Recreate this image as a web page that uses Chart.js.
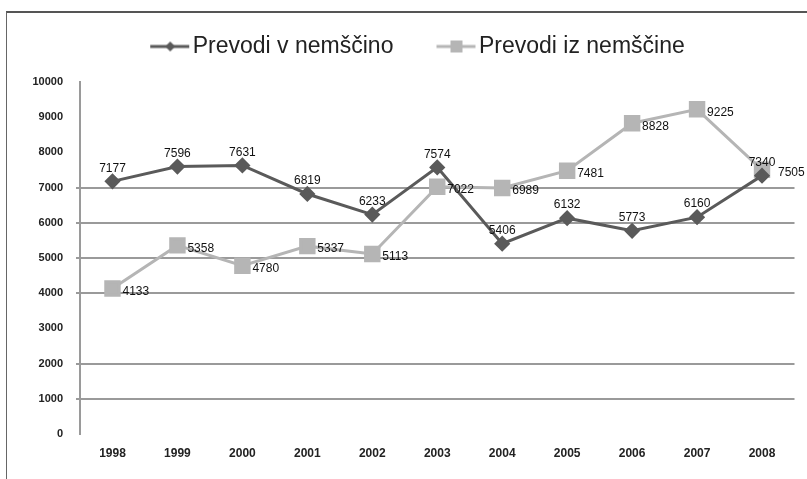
<!DOCTYPE html>
<html>
<head>
<meta charset="utf-8">
<script src="https://cdn.jsdelivr.net/npm/chart.js@4.4.0/dist/chart.umd.min.js"></script>
<style>
html,body{margin:0;padding:0;background:#fff;}
#wrap{position:relative;width:807px;height:479px;overflow:hidden;}
#frame{position:absolute;left:6px;top:11px;width:820px;height:500px;border-top:2px solid #555;border-left:1px solid #666;pointer-events:none;}
canvas{position:absolute;left:0;top:0;}
</style>
</head>
<body>
<div id="wrap">
<canvas id="c" width="807" height="479"></canvas>
<div id="frame"></div>
</div>
<script>
// podatki
var leta = ['1998','1999','2000','2001','2002','2003','2004','2005','2006','2007','2008'];
var vNemscino = [7177,7596,7631,6819,6233,7574,5406,6132,5773,6160,7340];
var izNemscine = [4133,5358,4780,5337,5113,7022,6989,7481,8828,9225,7505];
var brezMreze = [0,3000,8000,9000,10000]; // na sliki teh crt ni

var temna = '#5a5a5a';
var svetla = '#b5b5b5';

// ikona za legendo: crta z oznako na sredini (levi del platna ostane prazen)
function legendIcon(color, style){
  var cv = document.createElement('canvas');
  cv.width = 58; cv.height = 14;
  var g = cv.getContext('2d');
  g.strokeStyle = color; g.lineWidth = 3;
  g.beginPath(); g.moveTo(18,7); g.lineTo(57,7); g.stroke();
  g.fillStyle = color;
  g.beginPath();
  if(style=='rect'){ g.rect(32,1,12,12); }
  else { g.moveTo(38,2); g.lineTo(43,7); g.lineTo(38,12); g.lineTo(33,7); g.closePath(); }
  g.fill();
  return cv;
}
var ikone = [legendIcon(temna,'diamond'), legendIcon(svetla,'rect')];

var oznake = {
  id:'oznake',
  afterDatasetsDraw:function(chart){
    var ctx = chart.ctx;
    ctx.save();
    ctx.font = '12px Arial';
    ctx.fillStyle = '#111';
    chart.data.datasets.forEach(function(ds,i){
      var meta = chart.getDatasetMeta(i);
      meta.data.forEach(function(p,j){
        if(i==0){
          ctx.textAlign='center'; ctx.textBaseline='bottom';
          ctx.fillText(ds.data[j], p.x, p.y-7);
        } else {
          ctx.textAlign='left'; ctx.textBaseline='middle';
          ctx.fillText(ds.data[j], p.x+(j==10?16:10), p.y+3);
        }
      });
    });
    ctx.restore();
  }
};

var visinaLegende = {
  id:'visinaLegende',
  beforeInit:function(chart){
    var fit = chart.legend.fit;
    chart.legend.fit = function(){ fit.bind(chart.legend)(); this.height = 81; };
  }
};

var ctx = document.getElementById('c');
var graf = new Chart(ctx, {
  type:'line',
  data:{
    labels:leta,
    datasets:[{
      label:'Prevodi v nemščino',
      data:vNemscino,
      borderColor:temna,
      backgroundColor:temna,
      borderWidth:3,
      pointStyle:'rectRot',
      pointRadius:6,
      pointHoverRadius:6,
      tension:0
    },{
      label:'Prevodi iz nemščine',
      data:izNemscine,
      borderColor:svetla,
      backgroundColor:svetla,
      borderWidth:3,
      pointStyle:'rect',
      pointRadius:9.5,
      pointHoverRadius:9.5,
      tension:0
    }]
  },
  options:{
    responsive:false,
    animation:false,
    layout:{padding:{top:1,left:30,right:11,bottom:0}},
    plugins:{
      tooltip:{enabled:false},
      legend:{
        labels:{
          usePointStyle:true,
          pointStyleWidth:40,
          padding:34,
          color:'#222',
          font:{family:'Arial',size:23},
          generateLabels:function(chart){
            var items = Chart.defaults.plugins.legend.labels.generateLabels(chart);
            items.forEach(function(it,k){ it.pointStyle = ikone[k]; });
            return items;
          }
        }
      }
    },
    scales:{
      x:{
        offset:true,
        grid:{display:false},
        border:{display:false},
        ticks:{color:'#222',font:{family:'Liberation Sans Narrow, Arial',size:12,weight:'bold'},padding:4},
        afterFit:function(s){ s.height = 45; }
      },
      y:{
        min:0,max:10000,
        ticks:{
          stepSize:1000,color:'#222',padding:13,
          font:{family:'Arial',size:11,weight:'bold'},
          callback:function(v){ return String(v); }
        },
        border:{display:true,color:'#9a9a9a',width:2},
        grid:{
          color:function(c){ return brezMreze.indexOf(c.tick.value)>=0 ? 'rgba(0,0,0,0)' : '#9a9a9a'; },
          lineWidth:2,
          tickLength:4
        },
        afterFit:function(s){ s.width = 50; }
      }
    }
  },
  plugins:[oznake,visinaLegende]
});
</script>
</body>
</html>
